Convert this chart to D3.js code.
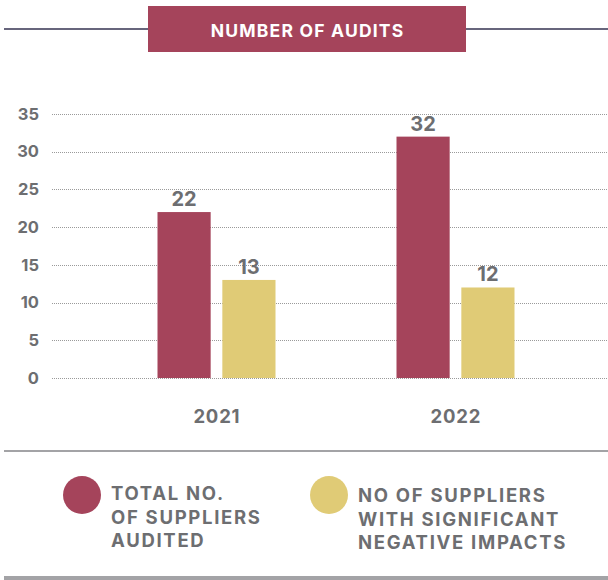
<!DOCTYPE html>
<html>
<head>
<meta charset="utf-8">
<script src="https://cdn.jsdelivr.net/npm/d3@7"></script>
<style>
  html, body { margin: 0; padding: 0; background: #ffffff; }
  svg { display: block; }
  text { font-family: Inter, Lato, sans-serif; font-weight: 700; }
</style>
</head>
<body>
<svg id="chart" width="608" height="580"></svg>
<script>
// Audit counts per year
const years = ["2021", "2022"];
const seriesNames = ["TOTAL NO. OF SUPPLIERS AUDITED", "NO OF SUPPLIERS WITH SIGNIFICANT NEGATIVE IMPACTS"];
const suppliersAudited = [22, 32];
const negativeImpacts = [13, 12];
const yTicks = [0, 5, 10, 15, 20, 25, 30, 35];
const legendLines = [
  ["TOTAL NO.", "OF SUPPLIERS", "AUDITED"],
  ["NO OF SUPPLIERS", "WITH SIGNIFICANT", "NEGATIVE IMPACTS"]
];
const title = "NUMBER OF AUDITS";

const colors = ["#a5445b", "#e0cb76"];
const textGray = "#6d6e71";
const fontFamily = "Inter, Lato, sans-serif";

const svg = d3.select("#chart");

// Title banner across a thin rule
svg.append("line")
  .attr("x1", 4).attr("x2", 608).attr("y1", 29).attr("y2", 29)
  .attr("stroke", "#67657c").attr("stroke-width", 2.2);
svg.append("rect")
  .attr("x", 148).attr("y", 6).attr("width", 318).attr("height", 46)
  .attr("fill", "#a5445b");
svg.append("text")
  .attr("x", 307.6).attr("y", 37)
  .attr("text-anchor", "middle")
  .attr("fill", "#ffffff")
  .attr("font-size", 17.5)
  .attr("letter-spacing", 1.2)
  .text(title);

// Scales
const y = d3.scaleLinear().domain([0, 35]).range([378, 114]);
const x0 = d3.scaleBand().domain(years).range([97, 575]).paddingInner(0).paddingOuter(0);
const x1 = d3.scaleBand().domain([0, 1]).range([0, 118]).paddingInner(0.18);

// Dotted gridlines
svg.append("g")
  .selectAll("line")
  .data(yTicks)
  .join("line")
  .attr("x1", 52).attr("x2", 608)
  .attr("y1", d => Math.round(y(d)) + 0.5).attr("y2", d => Math.round(y(d)) + 0.5)
  .attr("stroke", "#9a9a9a")
  .attr("stroke-width", 1)
  .attr("stroke-dasharray", "1,1");

// Y axis labels
const yAxis = d3.axisLeft(y).tickValues(yTicks).tickSize(0).tickPadding(0);
const yAxisG = svg.append("g")
  .attr("transform", "translate(39,0)")
  .call(yAxis);
yAxisG.select(".domain").remove();
yAxisG.selectAll("text")
  .attr("fill", textGray)
  .attr("font-size", 16.5)
  .attr("font-family", fontFamily)
  .attr("font-weight", 700);

// Bars
const data = years.map((yr, i) => ({ year: yr, values: [suppliersAudited[i], negativeImpacts[i]] }));
const groupOffset = yr => x0(yr) + (x0.bandwidth() - 118) / 2;

const groups = svg.append("g")
  .selectAll("g")
  .data(data)
  .join("g")
  .attr("transform", d => `translate(${groupOffset(d.year)},0)`);

groups.selectAll("rect")
  .data(d => d.values.map((v, k) => ({ k, v })))
  .join("rect")
  .attr("x", d => x1(d.k))
  .attr("y", d => y(d.v))
  .attr("width", x1.bandwidth())
  .attr("height", d => y(0) - y(d.v))
  .attr("fill", d => colors[d.k]);

groups.selectAll("text.val")
  .data(d => d.values.map((v, k) => ({ k, v })))
  .join("text")
  .attr("class", "val")
  .attr("x", d => x1(d.k) + x1.bandwidth() / 2)
  .attr("y", d => y(d.v) - 6)
  .attr("text-anchor", "middle")
  .attr("fill", textGray)
  .attr("font-size", 20)
  .text(d => d.v);

// Year labels
const xAxis = d3.axisBottom(x0).tickSize(0).tickPadding(0);
const xAxisG = svg.append("g")
  .attr("transform", "translate(0,410)")
  .call(xAxis);
xAxisG.select(".domain").remove();
xAxisG.selectAll("text")
  .attr("fill", textGray)
  .attr("font-size", 18.5)
  .attr("font-family", fontFamily)
  .attr("font-weight", 700)
  .attr("letter-spacing", 0.8)
  .attr("dx", 0.4);

// Separator rules
svg.append("line")
  .attr("x1", 4).attr("x2", 608).attr("y1", 451).attr("y2", 451)
  .attr("stroke", "#a3a3a6").attr("stroke-width", 2);
svg.append("line")
  .attr("x1", 4).attr("x2", 608).attr("y1", 578).attr("y2", 578)
  .attr("stroke", "#a3a3a6").attr("stroke-width", 4);

// Legend
const legendX = [82, 329];
const legend = svg.append("g")
  .selectAll("g")
  .data(seriesNames)
  .join("g")
  .attr("transform", (d, i) => `translate(${legendX[i]},495)`);

legend.append("circle")
  .attr("r", 19)
  .attr("fill", (d, i) => colors[i]);

legend.append("text")
  .attr("fill", textGray)
  .attr("font-size", 18.5)
  .attr("letter-spacing", 1.7)
  .selectAll("tspan")
  .data((d, i) => legendLines[i].map(t => ({ t, i })))
  .join("tspan")
  .attr("x", 29)
  .attr("y", (d, j) => (d.i === 0 ? 5 : 7) + j * 23.5)
  .text(d => d.t);
</script>
</body>
</html>
